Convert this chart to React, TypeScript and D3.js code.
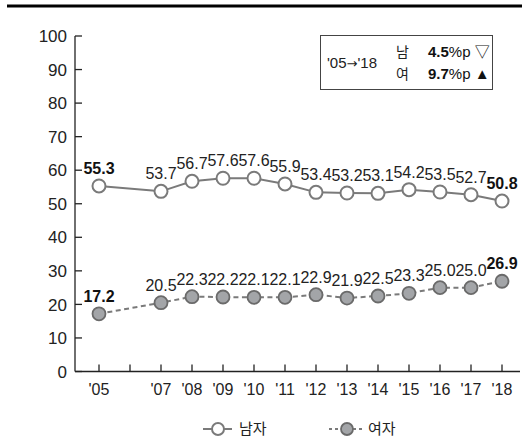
import React from "react";
import * as d3 from "d3";

const years = [2005, 2007, 2008, 2009, 2010, 2011, 2012, 2013, 2014, 2015, 2016, 2017, 2018];
const tickYears = [2005, 2006, 2007, 2008, 2009, 2010, 2011, 2012, 2013, 2014, 2015, 2016, 2017, 2018];
const tickLabels = ["'05", "", "'07", "'08", "'09", "'10", "'11", "'12", "'13", "'14", "'15", "'16", "'17", "'18"];
const male = [55.3, 53.7, 56.7, 57.6, 57.6, 55.9, 53.4, 53.2, 53.1, 54.2, 53.5, 52.7, 50.8];
const female = [17.2, 20.5, 22.3, 22.2, 22.1, 22.1, 22.9, 21.9, 22.5, 23.3, 25.0, 25.0, 26.9];
const yTicks = [0, 10, 20, 30, 40, 50, 60, 70, 80, 90, 100];
const seriesNames = ["남자", "여자"];

const FONT = "'Liberation Sans', Arial, 'Noto Sans CJK KR', sans-serif";
const KFONT = "'Noto Sans CJK KR', 'Liberation Sans', sans-serif";

export default function App() {
  const W = 522, H = 439;
  const x = d3.scaleLinear().domain([2005, 2018]).range([99, 502]);
  const y = d3.scaleLinear().domain([0, 100]).range([371.5, 36]);
  const line = d3.line<number>().x((_, i) => x(years[i])).y((d) => y(d));
  const lineColor = "#7a7a7a";

  const labels = (vals: number[]) =>
    vals.map((v, i) => {
      const bold = i === 0 || i === vals.length - 1;
      return (
        <text
          key={i}
          x={x(years[i])}
          y={y(v) - 12}
          textAnchor="middle"
          fontSize={16}
          fontWeight={bold ? "bold" : "normal"}
          fill={bold ? "#111" : "#222"}
          fontFamily={FONT}
        >
          {v.toFixed(1)}
        </text>
      );
    });

  return (
    <svg width={W} height={H} style={{ position: "absolute", left: 0, top: 0, background: "#fff" }}>
      <rect x={0} y={0} width={W} height={H} fill="#fff" />
      <line x1={7} x2={522} y1={6} y2={6} stroke="#000" strokeWidth={3} />

      {/* y axis */}
      <line x1={75} x2={75} y1={y(100)} y2={y(0)} stroke="#222" strokeWidth={1.3} />
      {yTicks.map((t) => (
        <g key={t}>
          <line x1={75} x2={82} y1={y(t)} y2={y(t)} stroke="#222" strokeWidth={1.3} />
          <text x={67} y={y(t)} dy="0.36em" textAnchor="end" fontSize={17} fill="#222" fontFamily={FONT}>
            {t}
          </text>
        </g>
      ))}

      {/* x axis */}
      <line x1={75} x2={520} y1={y(0)} y2={y(0)} stroke="#222" strokeWidth={1.3} />
      {tickYears.map((t, i) => (
        <g key={t}>
          <line x1={x(t)} x2={x(t)} y1={y(0)} y2={y(0) - 7} stroke="#222" strokeWidth={1.3} />
          <text x={x(t)} y={395} textAnchor="middle" fontSize={16} fill="#222" fontFamily={FONT}>
            {tickLabels[i]}
          </text>
        </g>
      ))}

      {/* male */}
      <path d={line(male) || ""} fill="none" stroke={lineColor} strokeWidth={2} />
      {male.map((v, i) => (
        <circle key={i} cx={x(years[i])} cy={y(v)} r={6.5} fill="#fff" stroke={lineColor} strokeWidth={2} />
      ))}
      {/* female */}
      <path d={line(female) || ""} fill="none" stroke={lineColor} strokeWidth={2} strokeDasharray="5,3.5" />
      {female.map((v, i) => (
        <circle key={i} cx={x(years[i])} cy={y(v)} r={6.5} fill="#a3a5a8" stroke="#6a6a6a" strokeWidth={1.8} />
      ))}
      {labels(male)}
      {labels(female)}

      {/* summary box */}
      <rect x={320.5} y={35.5} width={172} height={54} fill="#fff" stroke="#444" strokeWidth={1} />
      <text x={327} y={68} fontSize={15} fill="#222" fontFamily={FONT}>
        '05<tspan fontFamily="'DejaVu Sans', sans-serif" fontSize={13}>→</tspan>'18
      </text>
      <text x={396} y={57} fontSize={14} fill="#222" fontFamily={KFONT}>남</text>
      <text x={396} y={79} fontSize={14} fill="#222" fontFamily={KFONT}>여</text>
      <text x={428} y={57} fontSize={15} fill="#111" fontFamily={FONT}>
        <tspan fontWeight="bold">4.5</tspan>%p ▽
      </text>
      <text x={428} y={79} fontSize={15} fill="#111" fontFamily={FONT}>
        <tspan fontWeight="bold">9.7</tspan>%p ▲
      </text>

      {/* legend */}
      <line x1={203} x2={232} y1={429} y2={429} stroke={lineColor} strokeWidth={2} />
      <circle cx={218} cy={429} r={6} fill="#fff" stroke={lineColor} strokeWidth={2} />
      <text x={239} y={434} fontSize={15} fill="#222" fontFamily={KFONT}>{seriesNames[0]}</text>
      <line x1={329} x2={364} y1={429} y2={429} stroke={lineColor} strokeWidth={2} strokeDasharray="3,3" />
      <circle cx={347} cy={429} r={6} fill="#a3a5a8" stroke="#6a6a6a" strokeWidth={1.8} />
      <text x={368} y={434} fontSize={15} fill="#222" fontFamily={KFONT}>{seriesNames[1]}</text>
    </svg>
  );
}
